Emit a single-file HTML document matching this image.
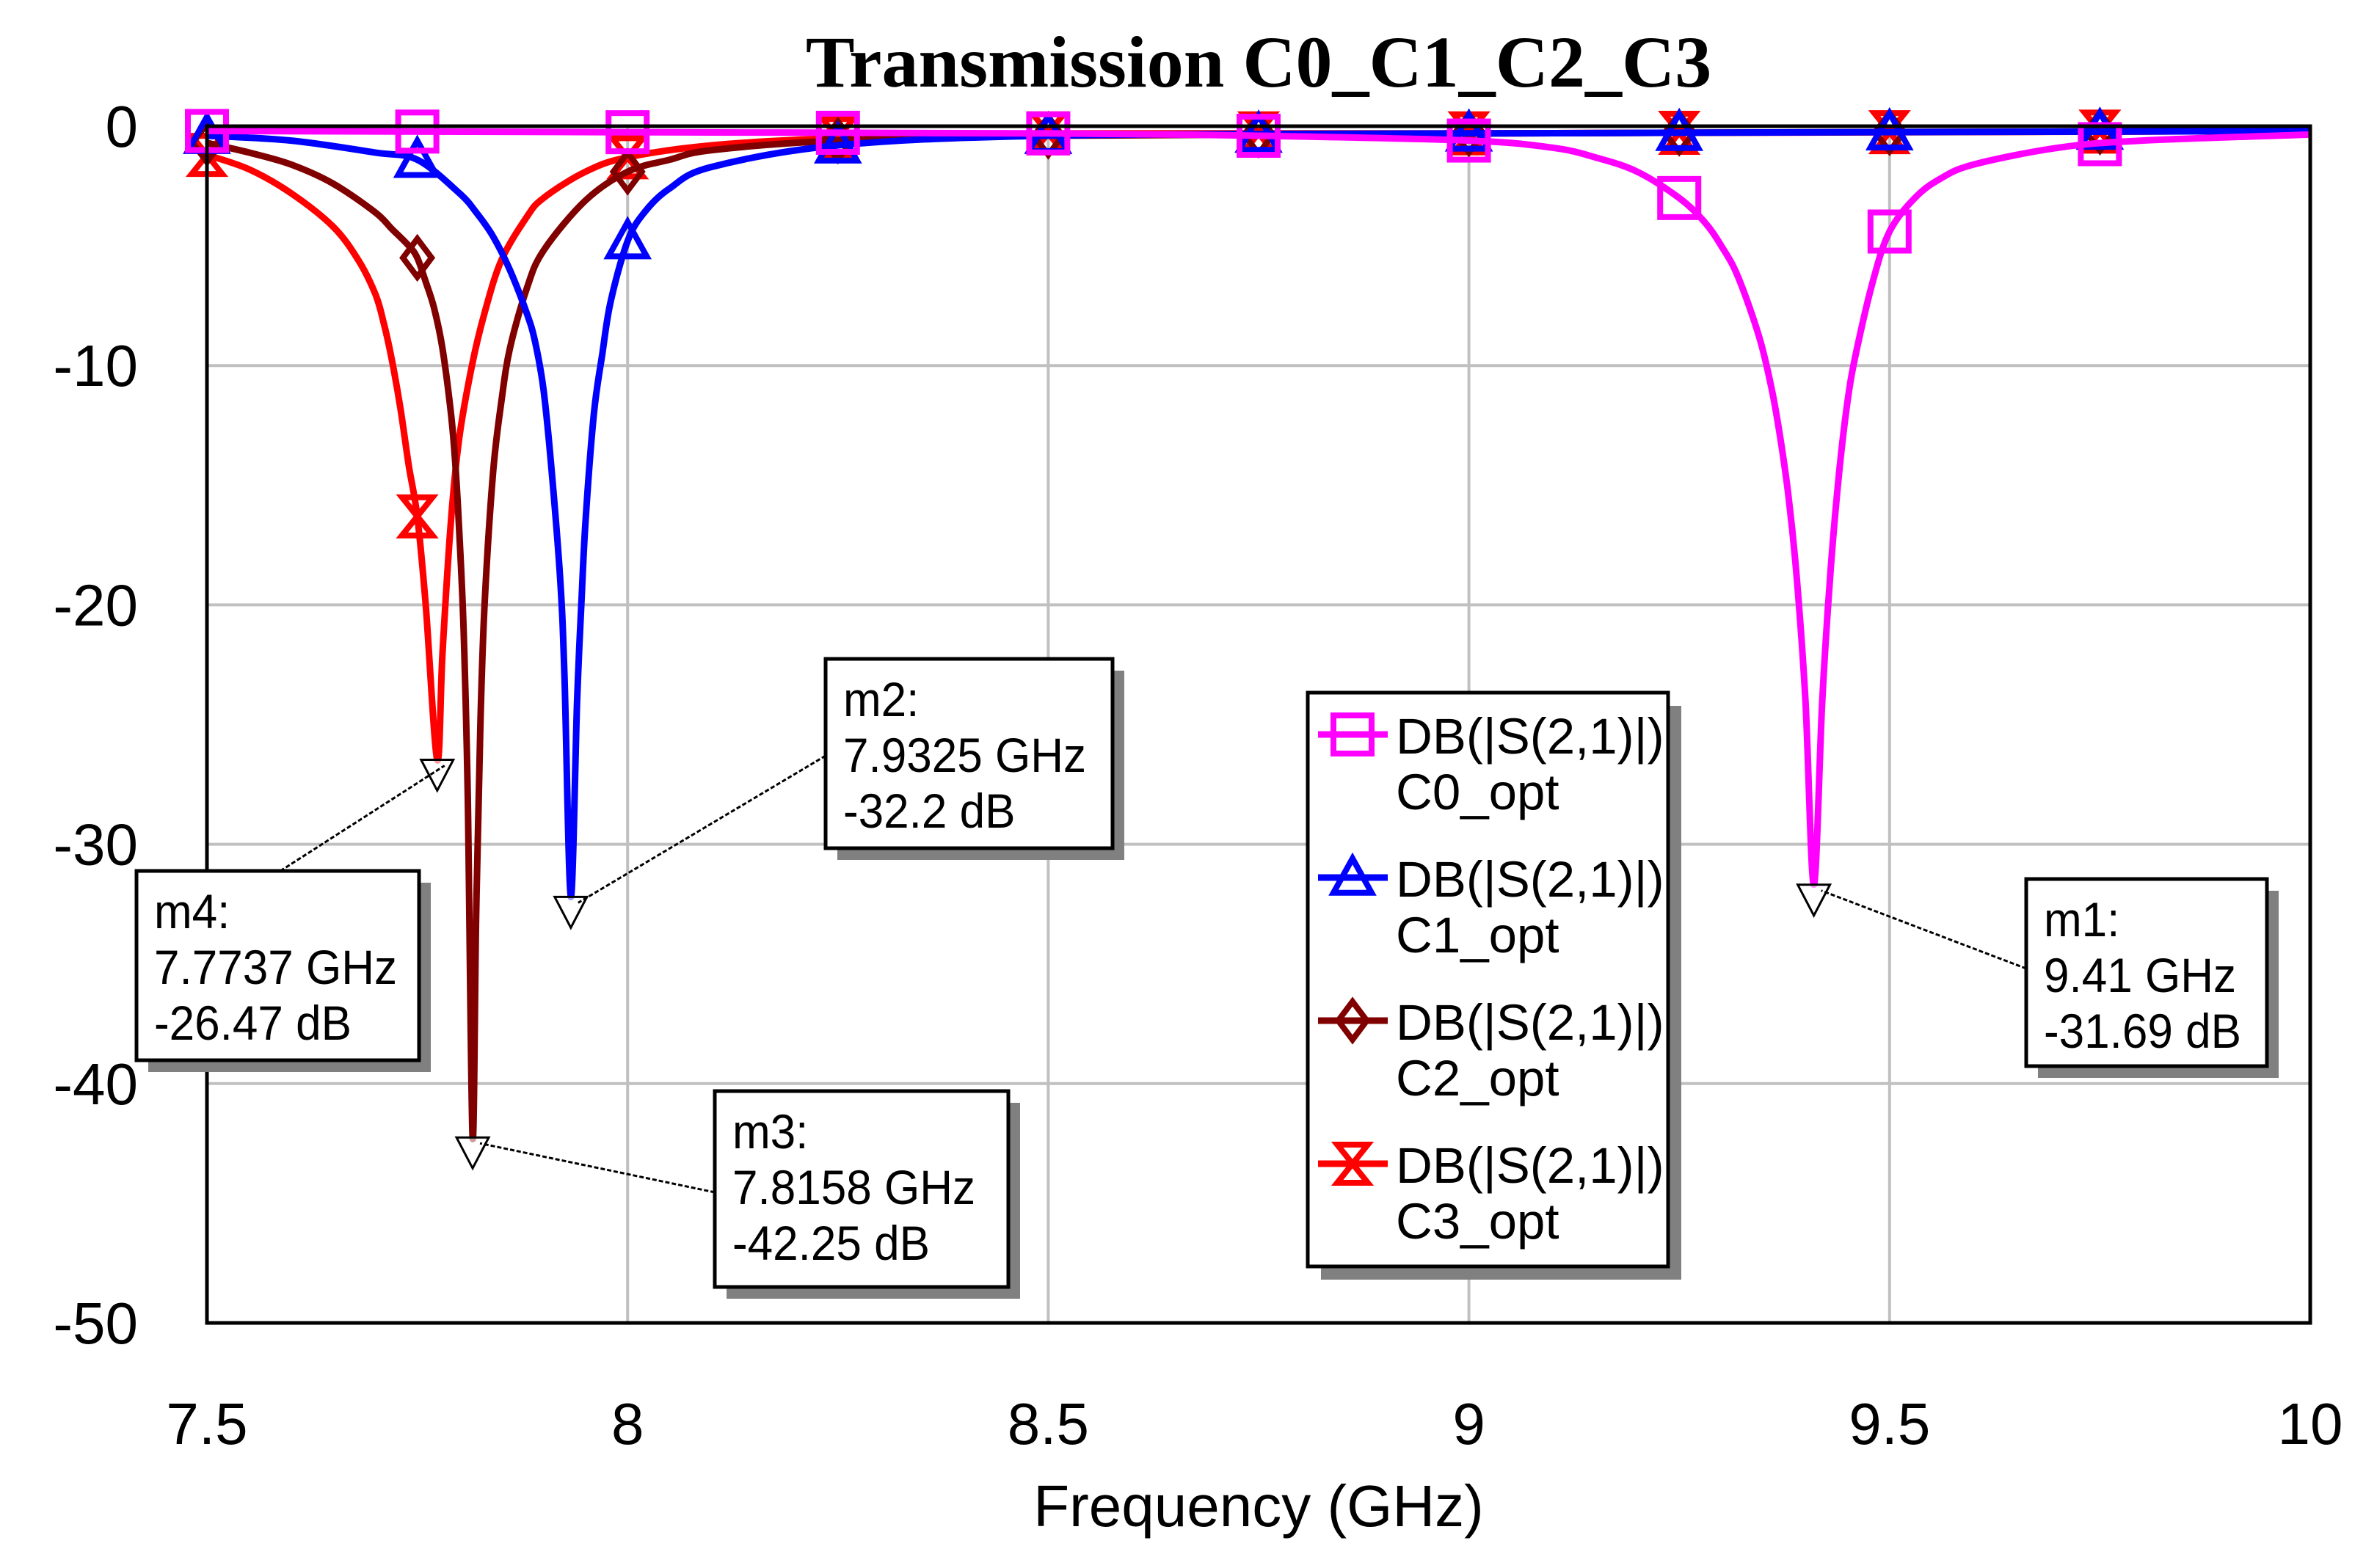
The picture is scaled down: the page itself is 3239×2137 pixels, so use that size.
<!DOCTYPE html>
<html><head><meta charset="utf-8"><style>
html,body{margin:0;padding:0;background:#fff;}
svg{display:block;}
text{font-family:"Liberation Sans",sans-serif;}
</style></head><body>
<svg id="chart" width="3239" height="2137" viewBox="0 0 3239 2137" xmlns="http://www.w3.org/2000/svg">
<rect x="0" y="0" width="3239" height="2137" fill="#fff"/>
<text x="1715" y="118" text-anchor="middle" font-weight="bold" font-size="100" style="font-family:'Liberation Serif',serif">Transmission C0_C1_C2_C3</text>
<g id="grid"></g>
<g id="series"></g>
<rect x="282" y="172" width="2866" height="1631" fill="none" stroke="#000" stroke-width="5"/>
<g id="ticks"></g>
<text x="1715" y="2080" text-anchor="middle" font-size="80">Frequency (GHz)</text>
<g id="annots"></g>
<g id="legend"></g>
</svg>
<script>
const xTicks=[7.5,8,8.5,9,9.5,10];
const xTickLabels=["7.5","8","8.5","9","9.5","10"];
const yTicks=[0,-10,-20,-30,-40,-50];
const yTickLabels=["0","-10","-20","-30","-40","-50"];
const seriesNames=["C0_opt","C1_opt","C2_opt","C3_opt"];
const seriesColors=["#ff00ff","#0000ff","#800000","#ff0000"];
const markerShapes=["square","triangle","diamond","bowtie"];
const markerFreqs=[7.5,7.75,8,8.25,8.5,8.75,9,9.25,9.5,9.75];
const c0Freq=[7.5,8,8.5,8.75,9,9.1,9.15,9.2,9.25,9.28,9.3,9.32,9.345,9.36,9.37,9.38,9.39,9.4,9.41,9.42,9.43,9.44,9.45,9.46,9.48,9.5,9.53,9.56,9.6,9.7,9.8,10];
const c0Db=[-0.2,-0.25,-0.3,-0.4,-0.6,-0.9,-1.3,-1.9,-3.0,-4.0,-5.0,-6.3,-8.8,-11,-13,-15.5,-19,-24,-31.69,-24,-18.5,-14.5,-11.5,-9.5,-6.5,-4.4,-3.0,-2.2,-1.6,-0.9,-0.6,-0.35];
const c1Freq=[7.5,7.6,7.7,7.75,7.8,7.82,7.84,7.86,7.88,7.89,7.9,7.91,7.92,7.925,7.9325,7.94,7.945,7.95,7.96,7.97,7.98,8.0,8.02,8.05,8.1,8.25,8.5,9,10];
const c1Db=[-0.4,-0.6,-1.1,-1.4,-2.8,-3.6,-4.6,-6,-7.8,-9,-11,-14.5,-19,-23,-32.2,-24,-20,-16.5,-12,-9.5,-7.3,-4.8,-3.6,-2.6,-1.7,-0.8,-0.4,-0.3,-0.2];
const c2Freq=[7.5,7.55,7.6,7.65,7.7,7.72,7.74,7.75,7.76,7.77,7.78,7.79,7.795,7.8,7.805,7.81,7.8158,7.82,7.825,7.83,7.84,7.85,7.86,7.88,7.9,7.95,8.0,8.05,8.1,8.25,8.5,9,10];
const c2Db=[-0.7,-1.1,-1.6,-2.4,-3.6,-4.3,-5.0,-5.5,-6.5,-7.6,-9.3,-12,-14,-17,-21,-28,-42.25,-33,-25,-20,-14.5,-11.5,-9.3,-6.8,-5.2,-3.1,-1.9,-1.4,-1,-0.6,-0.4,-0.3,-0.2];
const c3Freq=[7.5,7.55,7.6,7.65,7.68,7.7,7.71,7.72,7.73,7.74,7.75,7.76,7.7737,7.78,7.79,7.8,7.815,7.83,7.85,7.88,7.9,7.95,8.0,8.1,8.25,8.5,9,10];
const c3Db=[-1.2,-1.8,-2.8,-4.2,-5.6,-7,-8.2,-9.8,-11.8,-14.2,-16.3,-20,-26.47,-22,-16.5,-13,-10,-7.8,-5.6,-3.8,-3.0,-1.9,-1.3,-0.8,-0.5,-0.3,-0.3,-0.2];
const markerNames=["m1","m2","m3","m4"];
const markerSeries=[0,1,2,3];
const markerFreq=[9.41,7.9325,7.8158,7.7737];
const markerDb=[-31.69,-32.2,-42.25,-26.47];
const markerFreqLabels=["9.41 GHz","7.9325 GHz","7.8158 GHz","7.7737 GHz"];
const markerDbLabels=["-31.69 dB","-32.2 dB","-42.25 dB","-26.47 dB"];

const L=282,R=3148,T=172,B=1803;
const X0=7.5,X1=10,Y0=-50,Y1=0;
const NS="http://www.w3.org/2000/svg";
function xs(f){return L+(f-X0)/(X1-X0)*(R-L);}
function ys(d){return T+(Y1-d)/(Y1-Y0)*(B-T);}
function mk(tag,attrs,parent){const e=document.createElementNS(NS,tag);for(const k in attrs)e.setAttribute(k,attrs[k]);parent.appendChild(e);return e;}
function interp(fa,da,f){if(f<=fa[0])return da[0];for(let i=1;i<fa.length;i++){if(f<=fa[i]){const t=(f-fa[i-1])/(fa[i]-fa[i-1]);return da[i-1]+t*(da[i]-da[i-1]);}}return da[da.length-1];}
function smoothPath(pts){let d='M'+pts[0][0].toFixed(1)+','+pts[0][1].toFixed(1);
for(let i=0;i<pts.length-1;i++){const p0=pts[Math.max(0,i-1)],p1=pts[i],p2=pts[i+1],p3=pts[Math.min(pts.length-1,i+2)];
const c1x=p1[0]+(p2[0]-p0[0])/6,c1y=p1[1]+(p2[1]-p0[1])/6,c2x=p2[0]-(p3[0]-p1[0])/6,c2y=p2[1]-(p3[1]-p1[1])/6;
d+=` C${c1x.toFixed(1)},${c1y.toFixed(1)} ${c2x.toFixed(1)},${c2y.toFixed(1)} ${p2[0].toFixed(1)},${p2[1].toFixed(1)}`;}return d;}

const grid=document.getElementById('grid');
xTicks.forEach((v,i)=>{if(i>0&&i<xTicks.length-1){const l=mk('line',{x1:xs(v),x2:xs(v),y1:T,y2:B,stroke:'#c0c0c0','stroke-width':4},grid);

}});
yTicks.forEach((v,i)=>{if(i>0&&i<yTicks.length-1){const l=mk('line',{x1:L,x2:R,y1:ys(v),y2:ys(v),stroke:'#c0c0c0','stroke-width':4},grid);

}});

const ticks=document.getElementById('ticks');
xTicks.forEach((v,i)=>{const t=mk('text',{x:xs(v),y:1968,'text-anchor':'middle','font-size':80},ticks);t.textContent=xTickLabels[i];

});
yTicks.forEach((v,i)=>{const t=mk('text',{x:188,y:ys(v)+28,'text-anchor':'end','font-size':80},ticks);t.textContent=yTickLabels[i];

});

function drawMarker(shape,cx,cy,color,parent,s){
  s=s||26;let e;
  if(shape==='square'){e=mk('rect',{x:cx-s,y:cy-s,width:2*s,height:2*s,fill:'none',stroke:color,'stroke-width':8},parent);}
  else if(shape==='triangle'){e=mk('polygon',{points:`${cx},${cy-s} ${cx+s},${cy+s*0.8} ${cx-s},${cy+s*0.8}`,fill:'none',stroke:color,'stroke-width':8},parent);}
  else if(shape==='diamond'){e=mk('polygon',{points:`${cx},${cy-s} ${cx+s*0.75},${cy} ${cx},${cy+s} ${cx-s*0.75},${cy}`,fill:'none',stroke:color,'stroke-width':8},parent);}
  else {e=mk('polygon',{points:`${cx-s*0.8},${cy-s} ${cx+s*0.8},${cy-s} ${cx-s*0.8},${cy+s} ${cx+s*0.8},${cy+s}`,fill:'none',stroke:color,'stroke-width':8},parent);}
  return e;
}

const series=document.getElementById('series');
const freqs=[c0Freq,c1Freq,c2Freq,c3Freq];
const dbs=[c0Db,c1Db,c2Db,c3Db];
for(let s=freqs.length-1;s>=0;s--){
  const g=mk('g',{},series);
  
  
  const pts=freqs[s].map((f,i)=>[xs(f),ys(dbs[s][i])]);
  const pl=mk('path',{d:smoothPath(pts),fill:'none',stroke:seriesColors[s],'stroke-width':9,'stroke-linejoin':'round'},g);
  
  
  markerFreqs.forEach(f=>{const m=drawMarker(markerShapes[s],xs(f),ys(interp(freqs[s],dbs[s],f)),seriesColors[s],g);
  
  });
}

const boxes=[[2761,1198,328,255],[1125,898,391,258],[974,1487,400,267],[186,1187,385,258]];
const anchors=[[2761,1320],[1125,1030],[974,1625],[382,1187]];
const annots=document.getElementById('annots');
markerNames.forEach((n,i)=>{
  const g=mk('g',{},annots);
  
  
  const cx=xs(markerFreq[i]),cy=ys(markerDb[i]);
  const tri=mk('polygon',{points:`${cx-22},${cy} ${cx+22},${cy} ${cx},${cy+42}`,fill:'#fff','fill-opacity':0.6,stroke:'#000','stroke-width':3},g);
  
  
  const ln=mk('line',{x1:anchors[i][0],y1:anchors[i][1],x2:cx+10,y2:cy+8,stroke:'#000','stroke-width':3,'stroke-dasharray':'6,3'},g);
  
  
  const b=boxes[i];
  const sh=mk('rect',{x:b[0]+16,y:b[1]+16,width:b[2],height:b[3],fill:'#808080'},g);
  
  
  const r=mk('rect',{x:b[0],y:b[1],width:b[2],height:b[3],fill:'#fff',stroke:'#000','stroke-width':5},g);
  
  
  const lines=[n+':',markerFreqLabels[i],markerDbLabels[i]];
  lines.forEach((tx,j)=>{const t=mk('text',{x:b[0]+24,y:b[1]+78+j*76,'font-size':66},g);t.textContent=tx;
  t.setAttribute('transform',`translate(${b[0]+24},0) scale(0.94,1) translate(${-(b[0]+24)},0)`);
  
  });
});

const legend=document.getElementById('legend');
const ls=mk('rect',{x:1800,y:962,width:491,height:782,fill:'#808080'},legend);


const lb=mk('rect',{x:1782,y:944,width:491,height:782,fill:'#fff',stroke:'#000','stroke-width':5},legend);


seriesNames.forEach((n,i)=>{
  const g=mk('g',{},legend);
  
  
  const y=1001+i*195;
  mk('line',{x1:1796,x2:1891,y1:y,y2:y,stroke:seriesColors[i],'stroke-width':9},g);
  drawMarker(markerShapes[i],1843,y,seriesColors[i],g,26);
  const t1=mk('text',{x:1902,y:y+26,'font-size':69},g);t1.textContent='DB(|S(2,1)|)';
  
  
  const t2=mk('text',{x:1902,y:y+102,'font-size':69},g);t2.textContent=n;
  
  
});
</script>
</body></html>
